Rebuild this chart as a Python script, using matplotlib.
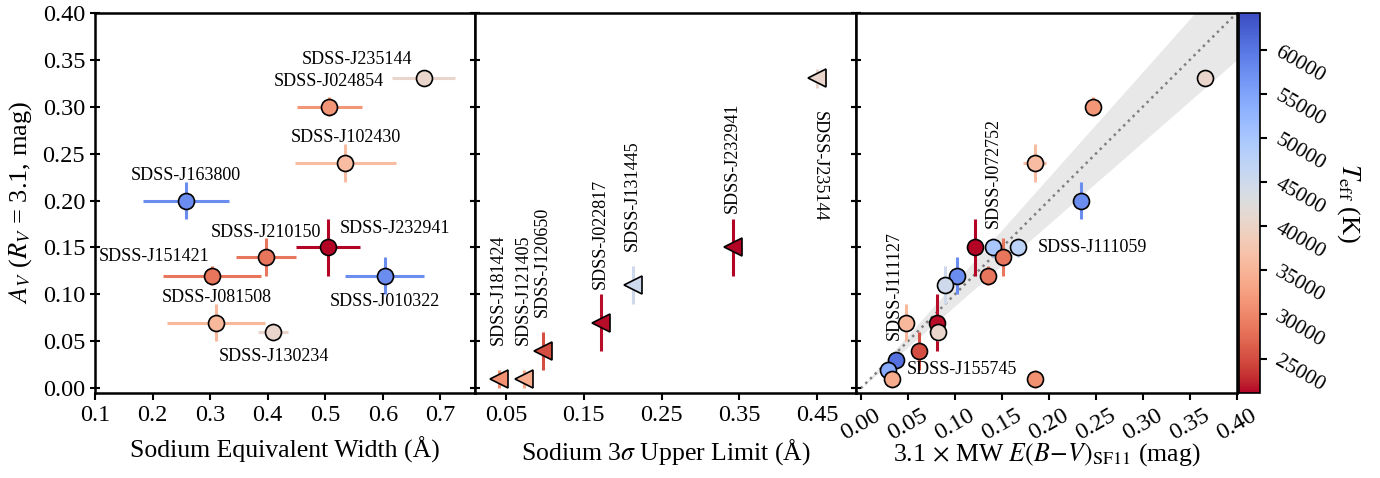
import numpy as np
import matplotlib
matplotlib.use("Agg")
import matplotlib.pyplot as plt
from matplotlib.colors import Normalize
from matplotlib.cm import ScalarMappable

plt.rcParams['font.family'] = ['Liberation Serif', 'DejaVu Serif']
plt.rcParams['mathtext.fontset'] = 'stix'

# --- sodium detections (left panel)
det_names = ["SDSS-J235144", "SDSS-J024854", "SDSS-J102430", "SDSS-J163800",
             "SDSS-J210150", "SDSS-J232941", "SDSS-J151421", "SDSS-J010322",
             "SDSS-J081508", "SDSS-J130234"]
det_ew = [0.671, 0.507, 0.535, 0.258, 0.397, 0.505, 0.303, 0.603, 0.311, 0.410]
det_ew_err = [0.055, 0.056, 0.088, 0.075, 0.052, 0.056, 0.085, 0.068, 0.085, 0.026]
det_av = [0.33, 0.30, 0.24, 0.20, 0.14, 0.15, 0.12, 0.12, 0.07, 0.06]
det_av_err = [0.005, 0.01, 0.02, 0.02, 0.02, 0.03, 0.01, 0.02, 0.02, 0.01]
det_teff = [40500, 31500, 36000, 57500, 28500, 21100, 28500, 57500, 35500, 40500]
# label offsets in pixels (dx, dy)
det_lab_off = [(-67, 19), (0, 25), (0, 25), (0, 25), (0, 24), (67, 19),
               (-58, 19), (0, -26), (0, 25), (0, -25)]

# --- sodium upper limits (middle panel)
ul_names = ["SDSS-J181424", "SDSS-J121405", "SDSS-J120650", "SDSS-J022817",
            "SDSS-J131445", "SDSS-J232941", "SDSS-J235144"]
ul_ew = [0.0406, 0.0736, 0.098, 0.172, 0.213, 0.342, 0.450]
ul_av = [0.01, 0.01, 0.04, 0.07, 0.11, 0.15, 0.33]
ul_av_err = [0.01, 0.01, 0.02, 0.03, 0.02, 0.03, 0.01]
ul_teff = [31000, 34000, 25000, 21500, 45000, 21100, 40500]

# --- all objects vs SF11 dust map (right panel)
all_names = ["SDSS-J235144", "SDSS-J024854", "SDSS-J102430", "SDSS-J163800",
             "SDSS-J232941", "SDSS-J072752", "SDSS-J111059", "SDSS-J210150",
             "SDSS-J151421", "SDSS-J010322", "SDSS-J131445", "SDSS-J022817",
             "SDSS-J130234", "SDSS-J081508", "SDSS-J120650", "SDSS-J111127",
             "SDSS-J155745", "SDSS-J121405", "SDSS-J181424"]
all_ebv = [0.366, 0.247, 0.185, 0.2345, 0.121, 0.1406, 0.1677, 0.1514,
           0.1355, 0.1023, 0.0892, 0.0813, 0.082, 0.0477, 0.0621, 0.0379,
           0.0285, 0.0332, 0.185]
all_ebv_err = [0.003, 0.003, 0.012, 0.003, 0.003, 0.003, 0.003, 0.003,
               0.003, 0.003, 0.003, 0.003, 0.003, 0.003, 0.003, 0.003,
               0.003, 0.003, 0.003]
all_av = [0.33, 0.30, 0.24, 0.20, 0.15, 0.15, 0.15, 0.14, 0.12, 0.12, 0.11,
          0.07, 0.06, 0.07, 0.04, 0.03, 0.02, 0.01, 0.01]
all_av_err = [0.005, 0.01, 0.02, 0.02, 0.03, 0.01, 0.01, 0.02, 0.01, 0.02,
              0.02, 0.03, 0.01, 0.02, 0.02, 0.005, 0.005, 0.01, 0.01]
all_teff = [40500, 31500, 36000, 57500, 21100, 50000, 47500, 28500, 28500,
            57500, 45000, 21500, 40500, 35500, 25000, 60500, 54000, 34000, 31000]
# only a few are labelled here
rt_labels = {"SDSS-J072752": ((0, 19), 90, 'center', 'bottom'),
             "SDSS-J111059": ((19, 0), 0, 'left', 'center'),
             "SDSS-J111127": ((-2, 20), 90, 'center', 'bottom'),
             "SDSS-J155745": ((19, 0), 0, 'left', 'center')}

band_frac = 0.125

norm = Normalize(vmin=21100, vmax=64200)
cmap = plt.get_cmap('coolwarm_r')

fig = plt.figure(figsize=(13.8, 4.78), dpi=100)
bot, hgt = 0.1778, 0.7956
ax1 = fig.add_axes([0.0688, bot, 0.2754, hgt])
ax2 = fig.add_axes([0.3442, bot, 0.2761, hgt], sharey=ax1)
ax3 = fig.add_axes([0.6203, bot, 0.2761, hgt], sharey=ax1)
cax = fig.add_axes([0.8978, bot, 0.0152, hgt])

lab_fs = 13
ms = 11.5

# left panel
for i in range(len(det_names)):
    c = cmap(norm(det_teff[i]))
    ax1.errorbar(det_ew[i], det_av[i], xerr=det_ew_err[i], yerr=det_av_err[i],
                 fmt='o', color=c, mfc=c, mec='k', mew=1.2, ms=ms,
                 elinewidth=2.2, capsize=0)
    ax1.annotate(det_names[i], (det_ew[i], det_av[i]),
                 xytext=det_lab_off[i], textcoords='offset pixels',
                 ha='center', va='center', fontsize=lab_fs)

# middle panel
for i in range(len(ul_names)):
    c = cmap(norm(ul_teff[i]))
    ax2.errorbar(ul_ew[i], ul_av[i], yerr=ul_av_err[i],
                 fmt='<', color=c, mfc=c, mec='k', mew=1.2, ms=13.5,
                 elinewidth=2.2, capsize=0)
    if ul_av[i] > 0.3:
        ax2.annotate(ul_names[i], (ul_ew[i], ul_av[i]), xytext=(2, -33),
                     textcoords='offset pixels', rotation=270,
                     ha='center', va='top', fontsize=lab_fs)
    else:
        ax2.annotate(ul_names[i], (ul_ew[i], ul_av[i]), xytext=(-1, 34),
                     textcoords='offset pixels', rotation=90,
                     ha='center', va='bottom', fontsize=lab_fs)

# right panel
xline = np.array([-0.005, 0.40])
ax3.fill_between(xline, xline * (1 - band_frac), xline * (1 + band_frac),
                 color='0.91', lw=0, zorder=0)
ax3.plot(xline, xline, ls=':', color='0.5', lw=1.8, zorder=1)
for i in range(len(all_names)):
    c = cmap(norm(all_teff[i]))
    ax3.errorbar(all_ebv[i], all_av[i], xerr=all_ebv_err[i], yerr=all_av_err[i],
                 fmt='o', color=c, mfc=c, mec='k', mew=1.2, ms=ms,
                 elinewidth=2.2, capsize=0)
    if all_names[i] in rt_labels:
        off, rot, ha, va = rt_labels[all_names[i]]
        ax3.annotate(all_names[i], (all_ebv[i], all_av[i]), xytext=off,
                     textcoords='offset pixels', rotation=rot,
                     ha=ha, va=va, fontsize=lab_fs)

ax1.set_ylim(-0.005, 0.40)
ax1.set_xlim(0.1, 0.76)
ax2.set_xlim(0.01, 0.50)
ax3.set_xlim(-0.005, 0.40)

ax1.set_xticks([0.1, 0.2, 0.3, 0.4, 0.5, 0.6, 0.7])
ax1.set_yticks(np.arange(0, 0.401, 0.05))
ax2.set_xticks([0.05, 0.15, 0.25, 0.35, 0.45])
ax3.set_xticks(np.arange(0, 0.401, 0.05))

for ax in (ax1, ax2, ax3):
    ax.tick_params(axis='y', direction='inout', length=7, width=1.5,
                   left=True, right=True, labelsize=17.5)
    ax.tick_params(axis='x', direction='out', length=5, width=1.5,
                   labelsize=17.5)
    for s in ax.spines.values():
        s.set_linewidth(1.8)
ax3.tick_params(axis='y', right=False)
ax2.tick_params(axis='y', labelleft=False)
ax3.tick_params(axis='y', labelleft=False)
ax1.xaxis.set_major_formatter(plt.FormatStrFormatter('%.1f'))
ax1.yaxis.set_major_formatter(plt.FormatStrFormatter('%.2f'))
ax2.xaxis.set_major_formatter(plt.FormatStrFormatter('%.2f'))
ax3.xaxis.set_major_formatter(plt.FormatStrFormatter('%.2f'))
plt.setp(ax3.get_xticklabels(), rotation=30)

ax1.set_ylabel(r'$A_V$ ($R_V$ = 3.1, mag)', fontsize=19, labelpad=6)
ax1.set_xlabel('Sodium Equivalent Width (Å)', fontsize=18.5, labelpad=8)
ax2.set_xlabel(r'Sodium 3$\sigma$ Upper Limit (Å)', fontsize=18.5, labelpad=8)
ax3.set_xlabel(r'3.1$\,\times\,$MW $E(B\!-\!V)_{\rm SF11}$ (mag)',
               fontsize=18.5, labelpad=-2)

cb = fig.colorbar(ScalarMappable(norm=norm, cmap=cmap), cax=cax)
cb.set_ticks([25000, 30000, 35000, 40000, 45000, 50000, 55000, 60000])
cb.ax.tick_params(labelsize=15.5, length=5, width=1.5, rotation=-30)
cb.outline.set_linewidth(1.2)
cb.set_label(r'$T_{\rm eff}$ (K)', rotation=270, fontsize=19, labelpad=24)

fig.savefig('out.png', dpi=100)
